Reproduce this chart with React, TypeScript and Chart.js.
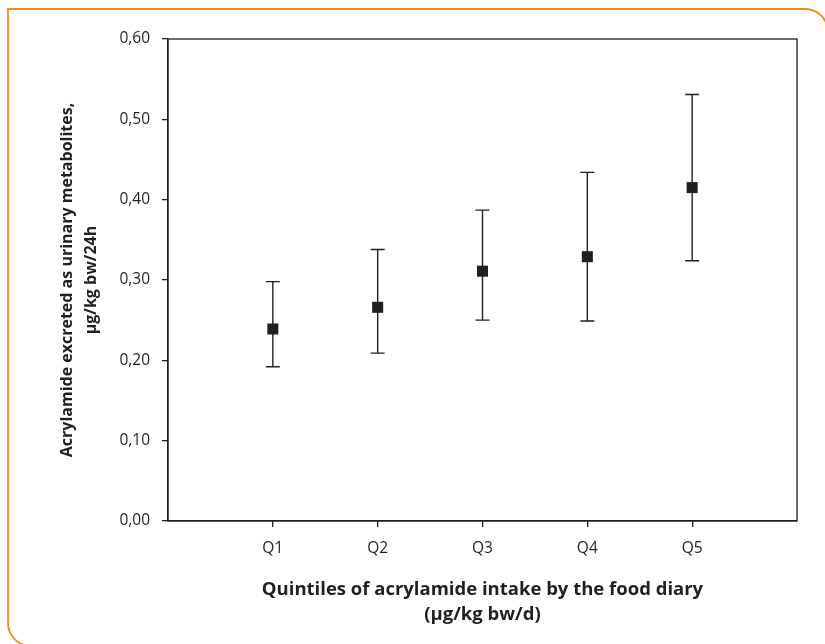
import React, { useEffect, useRef } from "react";
import { Chart, registerables } from "chart.js";

Chart.register(...registerables);

const categories = ["Q1", "Q2", "Q3", "Q4", "Q5"];
const means = [0.239, 0.266, 0.311, 0.329, 0.415];
const lowerBounds = [0.192, 0.209, 0.25, 0.249, 0.324];
const upperBounds = [0.298, 0.338, 0.387, 0.434, 0.531];
const yTitleLines = ["Acrylamide excreted as urinary metabolites,", "µg/kg bw/24h"];
const xTitleLines = ["Quintiles of acrylamide intake by the food diary", "(µg/kg bw/d)"];

const INK = "#231f20";
const ORANGE = "#f48a1f";
const FONT = "'Open Sans', sans-serif";

const errorBarPlugin = {
  id: "errorBars",
  beforeDatasetsDraw(chart: any) {
    const { ctx, scales } = chart;
    const xs = scales.x;
    const ys = scales.y;
    ctx.save();
    ctx.strokeStyle = INK;
    ctx.lineWidth = 1.4;
    for (let i = 0; i < categories.length; i++) {
      const x = xs.getPixelForValue(i + 1);
      const yl = ys.getPixelForValue(lowerBounds[i]);
      const yh = ys.getPixelForValue(upperBounds[i]);
      ctx.beginPath();
      ctx.moveTo(x, yl);
      ctx.lineTo(x, yh);
      ctx.moveTo(x - 7, yl);
      ctx.lineTo(x + 7, yl);
      ctx.moveTo(x - 7, yh);
      ctx.lineTo(x + 7, yh);
      ctx.stroke();
    }
    ctx.restore();
  },
};

const decorPlugin = {
  id: "decor",
  afterDraw(chart: any) {
    const { ctx, chartArea } = chart;
    const W = chart.width;
    const H = chart.height;
    ctx.save();
    // plot box
    ctx.strokeStyle = INK;
    ctx.lineWidth = 1.3;
    ctx.strokeRect(chartArea.left, chartArea.top, chartArea.right - chartArea.left, chartArea.bottom - chartArea.top);
    // orange frame
    ctx.strokeStyle = ORANGE;
    ctx.lineWidth = 1.8;
    const L = 8, T = 9, R = W + 3, B = H + 2, r = 23;
    ctx.beginPath();
    ctx.moveTo(L, B - r);
    ctx.lineTo(L, T);
    ctx.lineTo(R - r, T);
    ctx.arcTo(R, T, R, T + r, r);
    ctx.lineTo(R, B + 10);
    ctx.moveTo(L, B - r);
    ctx.arcTo(L, B, L + r, B, r);
    ctx.lineTo(W + 10, B);
    ctx.stroke();
    // titles
    ctx.fillStyle = INK;
    ctx.textAlign = "center";
    ctx.textBaseline = "middle";
    ctx.font = `bold 18.5px ${FONT}`;
    const cx = (chartArea.left + chartArea.right) / 2;
    ctx.fillText(xTitleLines[0], cx, 590);
    ctx.fillText(xTitleLines[1], cx, 615);
    ctx.font = `bold 16px ${FONT}`;
    const cy = (chartArea.top + chartArea.bottom) / 2;
    ctx.save();
    ctx.translate(67, cy);
    ctx.rotate(-Math.PI / 2);
    ctx.fillText(yTitleLines[0], 0, 0);
    ctx.restore();
    ctx.save();
    ctx.translate(91, cy);
    ctx.rotate(-Math.PI / 2);
    ctx.fillText(yTitleLines[1], 0, 0);
    ctx.restore();
    ctx.restore();
  },
};

export default function App() {
  const ref = useRef<HTMLCanvasElement | null>(null);
  useEffect(() => {
    if (!ref.current) return;
    const chart = new Chart(ref.current, {
      type: "scatter",
      data: {
        datasets: [
          {
            label: "Mean",
            data: means.map((m, i) => ({ x: i + 1, y: m })),
            pointStyle: "rect",
            pointRadius: 7.8,
            pointBorderWidth: 0,
            pointBackgroundColor: INK,
            pointBorderColor: INK,
          },
        ],
      },
      plugins: [errorBarPlugin, decorPlugin],
      options: {
        animation: false,
        responsive: false,
        devicePixelRatio: 1,
        layout: { padding: { left: 0, top: 39, right: 28, bottom: 0 } },
        plugins: { legend: { display: false }, tooltip: { enabled: false } },
        scales: {
          x: {
            type: "linear",
            min: 0,
            max: 6,
            afterBuildTicks: (scale: any) => {
              scale.ticks = categories.map((_, i) => ({ value: i + 1 }));
            },
            afterFit: (scale: any) => {
              scale.height = 123;
            },
            ticks: {
              autoSkip: false,
              maxRotation: 0,
              padding: 12,
              color: INK,
              font: { family: FONT, size: 15.5 },
              callback: (v: any) => categories[Number(v) - 1] ?? "",
            },
            grid: { drawOnChartArea: false, tickLength: 6, color: INK, lineWidth: 1.3 },
            border: { display: true, color: INK, width: 1.3 },
          },
          y: {
            min: 0,
            max: 0.6,
            afterFit: (scale: any) => {
              scale.width = 168;
            },
            ticks: {
              stepSize: 0.1,
              padding: 12,
              color: INK,
              font: { family: FONT, size: 15.5 },
              callback: (v: any) => Number(v).toFixed(2).replace(".", ","),
            },
            grid: { drawOnChartArea: false, tickLength: 6, color: INK, lineWidth: 1.3 },
            border: { display: true, color: INK, width: 1.3 },
          },
        },
      },
    });
    return () => chart.destroy();
  }, []);
  return (
    <div style={{ position: "fixed", left: 0, top: 0, width: 825, height: 644, background: "#fff" }}>
      <canvas ref={ref} width={825} height={644} style={{ width: 825, height: 644, display: "block" }} />
    </div>
  );
}
